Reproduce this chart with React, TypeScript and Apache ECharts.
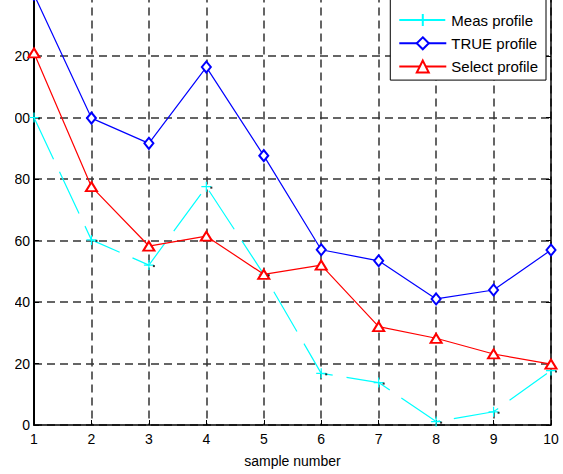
import React, { useEffect, useRef } from 'react';
import * as echarts from 'echarts';

const samples = [1, 2, 3, 4, 5, 6, 7, 8, 9, 10];
const measProfile = [100, 60.2, 52, 77.5, 49, 16.8, 13.8, 1.1, 4.3, 17.7];
const trueProfile = [140, 99.8, 91.6, 116.4, 87.6, 57, 53.4, 41, 43.9, 56.9];
const selectProfile = [121, 77.5, 58.2, 61.4, 49, 52, 32, 28.2, 23.1, 19.8];
const seriesNames = ['Meas profile', 'TRUE profile', 'Select profile'];
const xAxisName = 'sample number';

const FONT = '"Liberation Sans", Arial, Helvetica, sans-serif';

export default function App() {
  const ref = useRef<HTMLDivElement>(null);
  useEffect(() => {
    if (!ref.current) return;
    const chart = echarts.init(ref.current, undefined, { renderer: 'svg' });
    const pair = (ys: number[]) => samples.map((x, i) => [x, ys[i]]);
    const gridLine = { show: true, lineStyle: { color: '#333', width: 1.5, type: [8, 5] as any } };
    const plus = 'path://M0,5L10,5M5,0L5,10';
    chart.setOption({
      animation: false,
      backgroundColor: '#fff',
      textStyle: { fontFamily: FONT },
      grid: { left: 49, right: 12, top: 14.5, bottom: 49 },
      legend: {
        data: seriesNames,
        orient: 'vertical',
        right: 17,
        top: 15,
        padding: [17.5, 8, 6, 8],
        itemGap: 8.3,
        itemWidth: 47,
        itemHeight: 15,
        backgroundColor: '#fff',
        borderColor: '#000',
        borderWidth: 1,
        borderRadius: 0,
        textStyle: { fontSize: 15, color: '#000', fontFamily: FONT },
        z: 10,
      },
      xAxis: {
        type: 'value',
        min: 1,
        max: 10,
        interval: 1,
        name: xAxisName,
        nameLocation: 'middle',
        nameGap: 29,
        nameTextStyle: { fontSize: 14, color: '#000', fontFamily: FONT },
        axisLine: { lineStyle: { color: '#000', width: 1.5 } },
        axisTick: { inside: true, length: 5, lineStyle: { color: '#000' } },
        axisLabel: { fontSize: 14, color: '#000', margin: 7, fontFamily: FONT },
        splitLine: gridLine,
      },
      yAxis: [
        {
          type: 'value',
          min: 0,
          max: 140,
          interval: 20,
          axisLine: { show: true, lineStyle: { color: '#000', width: 2 } },
          axisTick: { show: true, inside: true, length: 5, lineStyle: { color: '#000' } },
          axisLabel: { fontSize: 14, color: '#000', margin: 4, showMaxLabel: false, fontFamily: FONT },
          splitLine: gridLine,
        },
        {
          type: 'value',
          position: 'right',
          min: 0,
          max: 140,
          interval: 20,
          axisLine: { show: true, lineStyle: { color: '#000', width: 1.5 } },
          axisTick: { show: true, inside: true, length: 5, lineStyle: { color: '#000' } },
          axisLabel: { show: false },
          splitLine: { show: false },
        },
      ],
      series: [
        {
          name: seriesNames[0],
          type: 'line',
          data: pair(measProfile),
          symbol: plus,
          symbolSize: 10,
          lineStyle: { color: '#00ffff', width: 1.2, type: [46, 14] as any },
          itemStyle: { color: '#00ffff', borderColor: '#00ffff', borderWidth: 1.2 },
          z: 3,
        },
        {
          name: seriesNames[1],
          type: 'line',
          data: pair(trueProfile),
          symbol: 'emptyDiamond',
          symbolSize: [9, 11],
          lineStyle: { color: '#0000ff', width: 1.2 },
          itemStyle: { color: '#0000ff', borderColor: '#0000ff', borderWidth: 1.2 },
          z: 4,
        },
        {
          name: seriesNames[2],
          type: 'line',
          data: pair(selectProfile),
          symbol: 'emptyTriangle',
          symbolSize: [11, 9],
          lineStyle: { color: '#ff0000', width: 1.2 },
          itemStyle: { color: '#ff0000', borderColor: '#ff0000', borderWidth: 1.2 },
          z: 5,
        },
        {
          name: 'meas-dot',
          type: 'scatter',
          data: pair(measProfile),
          symbol: 'rect',
          symbolSize: 2,
          symbolOffset: [5, 1],
          itemStyle: { color: '#000' },
          silent: true,
          z: 6,
        },
      ],
    });
    return () => chart.dispose();
  }, []);
  return (
    <div style={{ position: 'fixed', left: 0, top: 0, width: 563, height: 474, background: '#fff', overflow: 'hidden' }}>
      <div style={{ position: 'absolute', left: 15, top: 0, width: 548, height: 474, overflow: 'hidden' }}>
        <div ref={ref} style={{ position: 'absolute', left: -30, top: -20, width: 578, height: 494 }} />
      </div>
    </div>
  );
}
